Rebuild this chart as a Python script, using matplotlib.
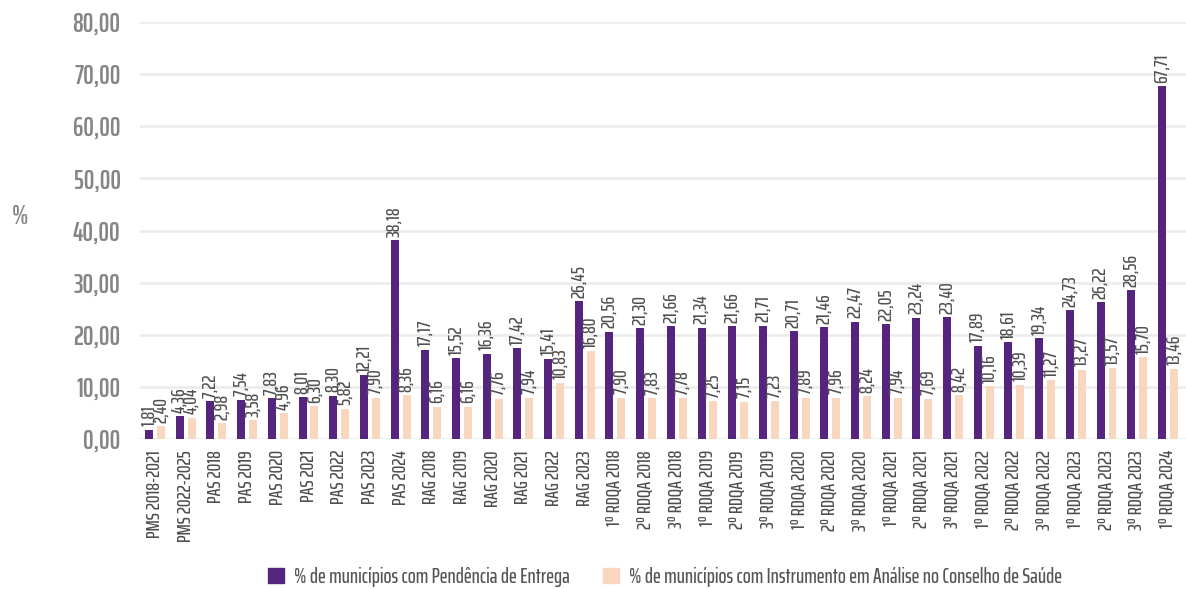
import matplotlib
matplotlib.use("Agg")
import matplotlib.pyplot as plt
from matplotlib.patches import Patch
import numpy as np

plt.rcParams['font.family'] = ['Saira ExtraCondensed', 'DejaVu Sans']

categories = [
    "PMS 2018-2021", "PMS 2022-2025",
    "PAS 2018", "PAS 2019", "PAS 2020", "PAS 2021", "PAS 2022", "PAS 2023", "PAS 2024",
    "RAG 2018", "RAG 2019", "RAG 2020", "RAG 2021", "RAG 2022", "RAG 2023",
    "1º RDQA 2018", "2º RDQA 2018", "3º RDQA 2018",
    "1º RDQA 2019", "2º RDQA 2019", "3º RDQA 2019",
    "1º RDQA 2020", "2º RDQA 2020", "3º RDQA 2020",
    "1º RDQA 2021", "2º RDQA 2021", "3º RDQA 2021",
    "1º RDQA 2022", "2º RDQA 2022", "3º RDQA 2022",
    "1º RDQA 2023", "2º RDQA 2023", "3º RDQA 2023",
    "1º RDQA 2024",
]

pendencia = [
    1.81, 4.36, 7.22, 7.54, 7.83, 8.01, 8.30, 12.21, 38.18,
    17.17, 15.52, 16.36, 17.42, 15.41, 26.45,
    20.56, 21.30, 21.66, 21.34, 21.66, 21.71, 20.71, 21.46, 22.47,
    22.05, 23.24, 23.40, 17.89, 18.61, 19.34, 24.73, 26.22, 28.56, 67.71,
]

analise = [
    2.40, 4.04, 2.98, 3.58, 4.96, 6.30, 5.82, 7.90, 8.36,
    6.16, 6.16, 7.76, 7.94, 10.83, 16.80,
    7.90, 7.83, 7.78, 7.25, 7.15, 7.23, 7.89, 7.96, 8.24,
    7.94, 7.69, 8.42, 10.16, 10.39, 11.27, 13.27, 13.57, 15.70, 13.46,
]

yticks = [0, 10, 20, 30, 40, 50, 60, 70, 80]

series_names = [
    "% de municípios com Pendência de Entrega",
    "% de municípios com Instrumento em Análise no Conselho de Saúde",
]

PURPLE = "#54247f"
PEACH = "#f8d7be"

def fmt(v):
    return f"{v:.2f}".replace(".", ",")

fig = plt.figure(figsize=(11.86, 5.89), dpi=100)
ax = fig.add_axes([140 / 1186, 1 - 439 / 589, 1 - 140 / 1186, (439 - 22) / 589])

x = np.arange(len(categories))
w = 0.26
off = 0.195

ax.bar(x - off, pendencia, width=w, color=PURPLE, zorder=3)
ax.bar(x + off, analise, width=w, color=PEACH, zorder=3)

for xi, v in zip(x, pendencia):
    ax.annotate(fmt(v), (xi - off, v), xytext=(0, 2.5), textcoords="offset points",
                rotation=90, ha="center", va="bottom", fontsize=14, fontweight="medium",
                color="#505050")
for xi, v in zip(x, analise):
    ax.annotate(fmt(v), (xi + off, v), xytext=(0, 2.5), textcoords="offset points",
                rotation=90, ha="center", va="bottom", fontsize=14, fontweight="medium",
                color="#505050")

ax.set_xlim(-0.49, len(categories) - 1 + 0.59)
ax.set_ylim(0, 80)
ax.set_yticks(yticks)
ax.set_yticklabels([fmt(t) for t in yticks], fontsize=19, fontweight="semibold", color="#858585")
ax.set_xticks(x)
ax.set_xticklabels(categories, rotation=90, fontsize=14, fontweight="medium", color="#4d4d4d")
ax.tick_params(axis="both", length=0)
ax.tick_params(axis="y", pad=14)
ax.tick_params(axis="x", pad=8)

ax.grid(axis="y", color="#ebebeb", linewidth=1.8, zorder=0)
for s in ax.spines.values():
    s.set_visible(False)

fig.text(20 / 1186, 1 - 217 / 589, "%", fontsize=19, fontweight="semibold", color="#858585",
         ha="center", va="center")

handles = [Patch(color=PURPLE), Patch(color=PEACH)]
fig.legend(handles, series_names, loc="center", bbox_to_anchor=(665 / 1186, 1 - 577 / 589),
           ncol=2, frameon=False, labelcolor="#555555",
           prop={"weight": "medium", "size": 15.2},
           handlelength=0.75, handleheight=0.75, columnspacing=1.6, handletextpad=0.45)

fig.savefig("out.png", dpi=100)
